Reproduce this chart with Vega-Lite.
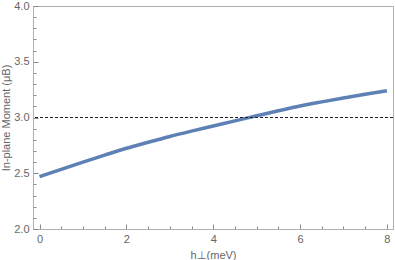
{
  "$schema": "https://vega.github.io/schema/vega-lite/v6.json",
  "width": 360,
  "height": 223,
  "autosize": "none",
  "padding": {"left": 33, "top": 6, "right": 2, "bottom": 31},
  "config": {
    "view": {"stroke": "#b0b0b0", "strokeWidth": 1},
    "axis": {"grid": false, "labelOverlap": false, "labelFlush": false, "labelFont": "Liberation Sans", "titleFont": "Liberation Sans", "labelFontSize": 11, "titleFontSize": 11, "labelColor": "#666666", "titleColor": "#666666", "titleFontWeight": "normal", "domainColor": "#b0b0b0", "tickColor": "#888888", "tickWidth": 1}
  },
  "data": {"values": [
    {"h": 0, "m": 2.469}, {"h": 0.5, "m": 2.535}, {"h": 1, "m": 2.600}, {"h": 1.5, "m": 2.663},
    {"h": 2, "m": 2.724}, {"h": 2.5, "m": 2.778}, {"h": 3, "m": 2.830}, {"h": 3.5, "m": 2.878},
    {"h": 4, "m": 2.924}, {"h": 4.5, "m": 2.970}, {"h": 5, "m": 3.015}, {"h": 5.5, "m": 3.060},
    {"h": 6, "m": 3.103}, {"h": 6.5, "m": 3.140}, {"h": 7, "m": 3.175}, {"h": 7.5, "m": 3.208},
    {"h": 8, "m": 3.240}
  ]},
  "layer": [
    {
      "mark": {"type": "line", "color": "#5E81B5", "strokeWidth": 3.5, "interpolate": "monotone"},
      "encoding": {
        "x": {"field": "h", "type": "quantitative", "scale": {"domain": [-0.15, 8.14], "nice": false, "zero": false},
          "axis": {"title": "h⊥(meV)", "values": [0,0.5,1,1.5,2,2.5,3,3.5,4,4.5,5,5.5,6,6.5,7,7.5,8], "labelExpr": "datum.value % 2 === 0 ? format(datum.value, 'd') : ''", "tickSize": {"condition": {"test": "datum.value % 2 === 0", "value": -5}, "value": -3}, "labelPadding": 9, "titlePadding": 3}},
        "y": {"field": "m", "type": "quantitative", "scale": {"domain": [2, 4], "nice": false, "zero": false},
          "axis": {"title": "In-plane Moment (μB)", "values": [2,2.1,2.2,2.3,2.4,2.5,2.6,2.7,2.8,2.9,3,3.1,3.2,3.3,3.4,3.5,3.6,3.7,3.8,3.9,4], "labelExpr": "indexof(['2.0','2.5','3.0','3.5','4.0'], format(datum.value, '.1f')) >= 0 ? format(datum.value, '.1f') : ''", "tickSize": {"condition": {"test": "indexof(['2.0','2.5','3.0','3.5','4.0'], format(datum.value, '.1f')) >= 0", "value": -5}, "value": -3}, "labelPadding": 9, "titlePadding": 2}}
      }
    },
    {
      "data": {"values": [{"m": 3}]},
      "mark": {"type": "rule", "color": "#222222", "strokeWidth": 1, "strokeDash": [3, 2]},
      "encoding": {
        "y": {"field": "m", "type": "quantitative", "scale": {"domain": [2, 4], "nice": false, "zero": false},
          "axis": {"title": "In-plane Moment (μB)", "values": [2,2.1,2.2,2.3,2.4,2.5,2.6,2.7,2.8,2.9,3,3.1,3.2,3.3,3.4,3.5,3.6,3.7,3.8,3.9,4], "labelExpr": "indexof(['2.0','2.5','3.0','3.5','4.0'], format(datum.value, '.1f')) >= 0 ? format(datum.value, '.1f') : ''", "tickSize": {"condition": {"test": "indexof(['2.0','2.5','3.0','3.5','4.0'], format(datum.value, '.1f')) >= 0", "value": -5}, "value": -3}, "labelPadding": 9, "titlePadding": 2}}
      }
    }
  ]
}
